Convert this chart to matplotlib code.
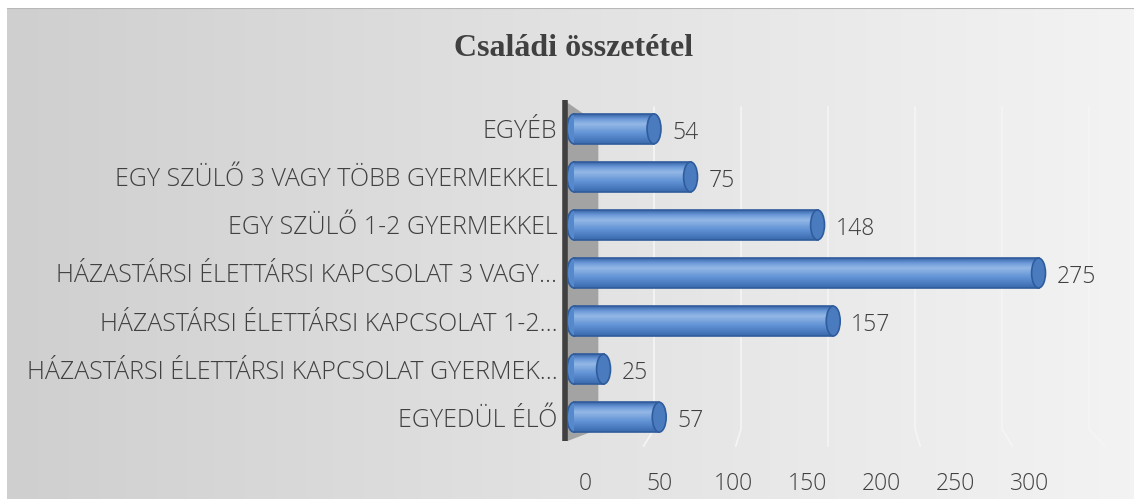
import numpy as np
import matplotlib
matplotlib.use("Agg")
import matplotlib.pyplot as plt
from matplotlib.patches import Ellipse, Polygon
from matplotlib.colors import LinearSegmentedColormap

# adatok
categories = ["EGYEDÜL ÉLŐ",
              "HÁZASTÁRSI ÉLETTÁRSI KAPCSOLAT GYERMEK…",
              "HÁZASTÁRSI ÉLETTÁRSI KAPCSOLAT 1-2…",
              "HÁZASTÁRSI ÉLETTÁRSI KAPCSOLAT 3 VAGY…",
              "EGY SZÜLŐ 1-2 GYERMEKKEL",
              "EGY SZÜLŐ 3 VAGY TÖBB GYERMEKKEL",
              "EGYÉB"]
values = [57, 25, 157, 275, 148, 75, 54]
x_ticks = [0, 50, 100, 150, 200, 250, 300]
title = "Családi összetétel"

FONT = "Open Sans"
W, H = 1134, 499
fig = plt.figure(figsize=(W / 100, H / 100), dpi=100, facecolor="white")

# háttér színátmenet
bg = fig.add_axes([7 / W, 0, 1 - 7 / W, 1 - 8 / H], zorder=0)
grad = np.linspace(0, 1, 256).reshape(1, -1)
bg_cmap = LinearSegmentedColormap.from_list("bg", ["#cfcfcf", "#e2e2e2", "#f3f3f3"])
bg.imshow(grad, aspect="auto", cmap=bg_cmap, extent=[0, 1, 0, 1])
bg.axhline(1, color="#b8b8b8", lw=1.5)
bg.axis("off")

ax = fig.add_axes([567 / W, 1 - 446 / H, 522 / W, 346 / H], zorder=1)
ax.patch.set_alpha(0)

# rácsvonalak (a padló felé megtörve)
for v in x_ticks[1:]:
    lean = (v - 150) * 0.06
    ax.plot([v, v, v + lean], [6.45, -0.25, -0.6], color="#f5f5f5", lw=1.2,
            zorder=1, clip_on=False)

# bal oldali fal
wall = Polygon([(0, 6.55), (18, 6.1), (18, -0.25), (0, -0.5)],
               closed=True, facecolor="#a3a3a3", edgecolor="none", zorder=2)
ax.add_patch(wall)
ax.plot([-1.2, -1.2], [-0.5, 6.6], color="#404040", lw=4, solid_capstyle="butt",
        zorder=3, clip_on=False)

# hengeres oszlopok
bar_cmap = LinearSegmentedColormap.from_list(
    "bar", ["#3866aa", "#6e9cda", "#94b8e6", "#78a3dc", "#5e90d3", "#4d7ec2", "#3a68ab"])
grad_v = np.linspace(0, 1, 64).reshape(-1, 1)
h = 0.62
r = 4.0
for y, v in enumerate(values):
    left_cap = Ellipse((r, y), 2 * r, h, facecolor="#5689cc", edgecolor="#2f5c9c",
                       lw=1.2, zorder=4)
    ax.add_patch(left_cap)
    ax.imshow(grad_v, cmap=bar_cmap, aspect="auto", origin="upper",
              extent=[r, v - r, y - h / 2, y + h / 2], zorder=5)
    ax.plot([r, v - r], [y + h / 2, y + h / 2], color="#2f5c9c", lw=1.2, zorder=6)
    ax.plot([r, v - r], [y - h / 2, y - h / 2], color="#2f5c9c", lw=1.2, zorder=6)
    right_cap = Ellipse((v - r, y), 2 * r, h, facecolor="#4a7bbf", edgecolor="#2f5c9c",
                        lw=1.2, zorder=7)
    ax.add_patch(right_cap)
    ax.annotate(str(v), (v, y), xytext=(8, -3), textcoords="offset points",
                va="center", ha="left", fontsize=16.5, color="#404040",
                family=FONT, fontweight="light", zorder=8)

ax.set_aspect("auto")
ax.set_xlim(0, 300)
ax.set_ylim(-0.6, 6.6)

ax.set_yticks(range(len(categories)))
ax.set_yticklabels(categories, fontsize=18, color="#404040", family=FONT,
                   fontweight="light")
ax.tick_params(axis="y", length=0, pad=7)
ax.set_xticks([])
for s in ax.spines.values():
    s.set_visible(False)

# perspektivikus tengelyfeliratok
sec = ax.secondary_xaxis("bottom", functions=(lambda x: (x - 10.3) / 0.852,
                                                lambda v: 10.3 + 0.852 * v))
sec.set_xticks(x_ticks)
sec.set_xticklabels([str(t) for t in x_ticks], fontsize=16.5, color="#404040",
                    family=FONT, fontweight="light")
sec.tick_params(length=0, pad=19)
sec.spines["bottom"].set_visible(False)

fig.text(574 / W, 1 - 48 / H, title, ha="center", va="center", fontsize=23,
         fontweight="bold", family="Liberation Serif", color="#404040")

fig.savefig("out.png", dpi=100, facecolor=fig.get_facecolor())
